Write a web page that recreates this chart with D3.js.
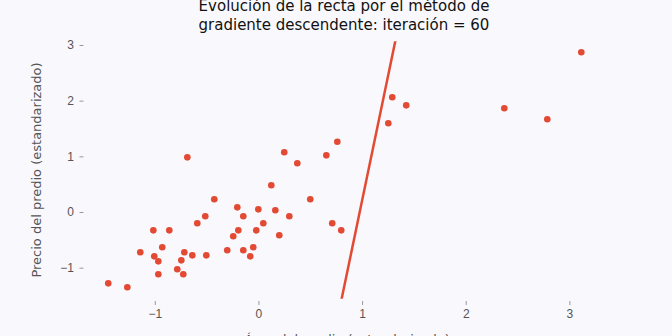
<!DOCTYPE html>
<html>
<head>
<meta charset="utf-8">
<script src="https://cdn.jsdelivr.net/npm/d3@7"></script>
<style>
  body { margin: 0; background: #f9f8fd; }
  svg { display: block; font-family: "DejaVu Sans", sans-serif; }
  .tick line { stroke: #999; }
  .tick text { fill: #555; font-size: 12px; }
</style>
</head>
<body>
<svg id="chart" width="672" height="336"></svg>
<script>
// standardized area / price of each lot
const areaX = [-1.449, -1.265, -1.140, -1.014, -1.005, -0.966, -0.966, -0.928, -0.860, -0.783,
  -0.744, -0.725, -0.715, -0.686, -0.638, -0.590, -0.513, -0.503, -0.426, -0.301,
  -0.243, -0.204, -0.194, -0.146, -0.146, -0.079, -0.050, -0.021, -0.001, 0.047,
  0.124, 0.163, 0.201, 0.249, 0.298, 0.375, 0.500, 0.655, 0.712, 0.761,
  0.799, 1.253, 1.291, 1.426, 2.372, 2.787, 3.115];
const priceY = [-1.281, -1.352, -0.724, -0.329, -0.796, -0.886, -1.119, -0.634, -0.329, -1.029,
  -0.868, -1.119, -0.724, 0.982, -0.778, -0.203, -0.077, -0.778, 0.228, -0.688,
  -0.436, 0.084, -0.329, -0.077, -0.688, -0.796, -0.634, -0.329, 0.048, -0.203,
  0.480, 0.031, -0.418, 1.072, -0.077, 0.875, 0.228, 1.018, -0.203, 1.263,
  -0.329, 1.593, 2.060, 1.916, 1.863, 1.665, 2.868];

// line after 60 iterations: y = slope * x + intercept
const slope = 8.94;
const intercept = -8.736;

const xTicks = [-1, 0, 1, 2, 3];
const yTicks = [-1, 0, 1, 2, 3];

const red = "#e24a33";
const svg = d3.select("#chart");

const x = d3.scaleLinear().domain([-1.683, 3.334]).range([84, 604]);
const y = d3.scaleLinear().domain([-1.557, 3.066]).range([298.7, 41.3]);

// clip for the line
svg.append("clipPath").attr("id", "plot")
  .append("rect")
  .attr("x", 84).attr("y", y.range()[1])
  .attr("width", 520).attr("height", y.range()[0] - y.range()[1]);

// axes
const yAxis = svg.append("g")
  .attr("transform", "translate(83.5,0)")
  .call(d3.axisLeft(y).tickValues(yTicks).tickFormat(d3.format("d")).tickSize(4).tickPadding(5.5));
yAxis.select(".domain").remove();

const xAxis = svg.append("g")
  .attr("transform", "translate(0,301)")
  .call(d3.axisBottom(x).tickValues(xTicks).tickFormat(d3.format("d")).tickSize(4).tickPadding(4.5));
xAxis.select(".domain").remove();

// scatter
svg.append("g").selectAll("circle")
  .data(areaX).enter().append("circle")
  .attr("cx", function(d){ return x(d); })
  .attr("cy", function(d, i){ return y(priceY[i]); })
  .attr("r", 3.3)
  .style("fill", red);

// regression line
const xs = x.domain();
svg.append("line")
  .attr("clip-path", "url(#plot)")
  .attr("x1", x(xs[0])).attr("y1", y(slope * xs[0] + intercept))
  .attr("x2", x(xs[1])).attr("y2", y(slope * xs[1] + intercept))
  .style("stroke", red)
  .style("stroke-width", 2.5);

// titles
const title = svg.append("text")
  .attr("text-anchor", "middle")
  .style("font-size", "15px")
  .style("fill", "#111");
title.append("tspan").attr("x", 344).attr("y", 11).text("Evolución de la recta por el método de");
title.append("tspan").attr("x", 344).attr("y", 29.5).text("gradiente descendente: iteración = 60");

svg.append("text")
  .attr("transform", "translate(41,170) rotate(-90)")
  .attr("text-anchor", "middle")
  .style("font-size", "13px")
  .style("fill", "#555")
  .text("Precio del predio (estandarizado)");

svg.append("text")
  .attr("x", 347).attr("y", 344)
  .attr("text-anchor", "middle")
  .style("font-size", "13px")
  .style("fill", "#555")
  .text("Área del predio (estandarizado)");
</script>
</body>
</html>
